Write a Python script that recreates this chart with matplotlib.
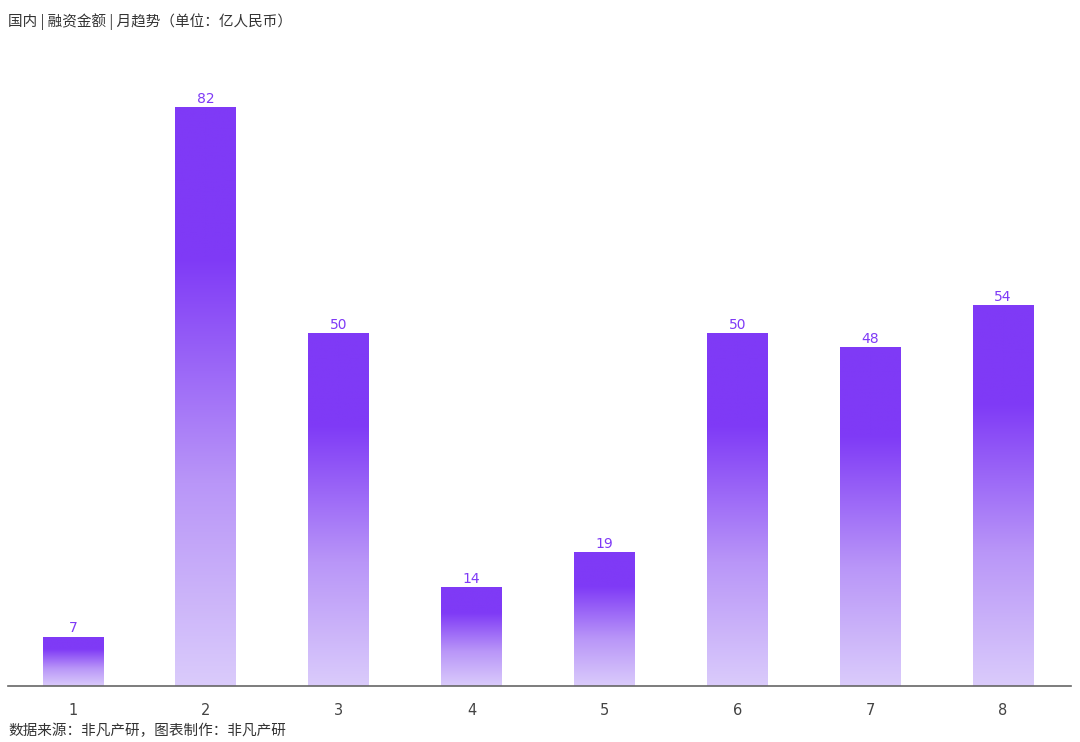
import matplotlib
matplotlib.use("Agg")
import matplotlib.pyplot as plt
import numpy as np
from matplotlib.colors import LinearSegmentedColormap

plt.rcParams['font.family'] = ['Noto Sans CJK SC', 'DejaVu Sans']

months = ["1", "2", "3", "4", "5", "6", "7", "8"]
values = [7, 82, 50, 14, 19, 50, 48, 54]
title = "国内 | 融资金额 | 月趋势（单位：亿人民币）"
source = "数据来源：非凡产研，图表制作：非凡产研"

fig = plt.figure(figsize=(10.8, 7.42), dpi=100)
ax = fig.add_axes([8/1080, 56/742, (1071-8)/1080, 635/742])

cmap = LinearSegmentedColormap.from_list(
    "g", [(0.0, "#dacbfb"), (0.35, "#b996f8"), (0.74, "#7f3af6"), (1.0, "#7f3af6")])
grad = np.linspace(0, 1, 256).reshape(-1, 1)

x = np.arange(1, len(months) + 1)
w = 0.455
bars = ax.bar(x, values, width=w, color="none", edgecolor="none")
for b, v in zip(bars, values):
    x0 = b.get_x()
    im = ax.imshow(grad, cmap=cmap, aspect="auto", origin="lower",
                   extent=[x0, x0 + b.get_width(), 0, v], zorder=2)
    im.set_clip_path(b)
    ax.text(b.get_x() + b.get_width()/2, v + 0.2, f"{v}", ha="center", va="bottom",
            color="#7f3af6", fontsize=10, family=['DejaVu Sans'])

ax.set_xlim(0.512, 8.512)
ax.set_ylim(0, 90)
ax.set_xticks(x)
ax.set_xticklabels(months, fontsize=10.5, color="#444444", family=['DejaVu Sans'])
ax.tick_params(axis='x', length=0, pad=12)
ax.set_yticks([])
for s in ["top", "right", "left"]:
    ax.spines[s].set_visible(False)
ax.spines["bottom"].set_color("#666666")
ax.spines["bottom"].set_linewidth(1.2)

fig.text(8/1080, 1 - 22/742, title, ha="left", va="center", fontsize=10.5, color="#333333")
fig.text(8/1080, 1 - 731/742, source, ha="left", va="center", fontsize=10.5, color="#333333")

fig.savefig("out.png", dpi=100)
